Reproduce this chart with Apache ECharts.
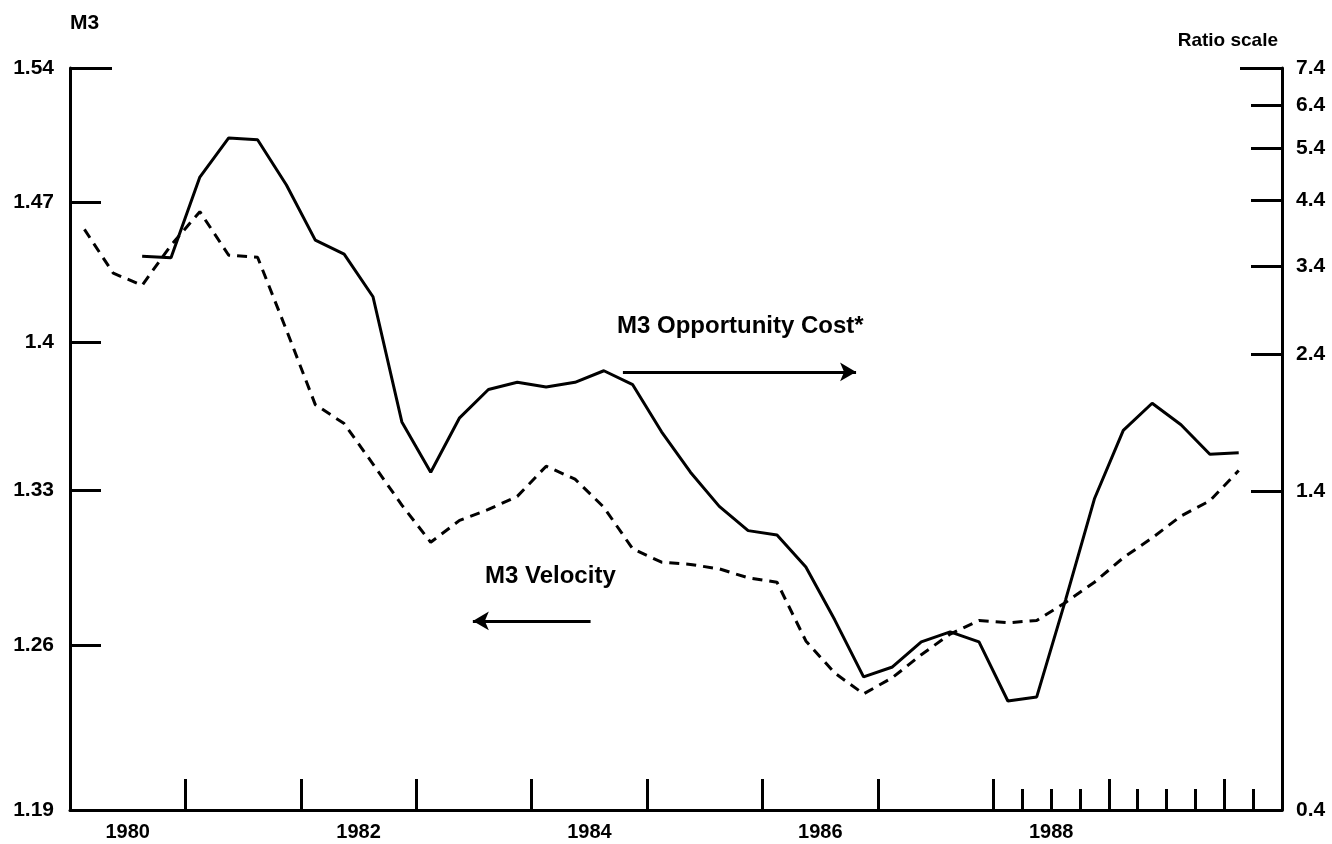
<!DOCTYPE html>
<html>
<head>
<meta charset="utf-8">
<script src="https://cdn.jsdelivr.net/npm/echarts@6/dist/echarts.min.js"></script>
<style>
html,body{margin:0;padding:0;background:#fff;}
#chart{width:1332px;height:844px;}
</style>
</head>
<body>
<div id="chart"></div>
<script>
// Quarterly observations (plotted at mid-quarter)
const quarters = [
  "1980Q1","1980Q2","1980Q3","1980Q4",
  "1981Q1","1981Q2","1981Q3","1981Q4",
  "1982Q1","1982Q2","1982Q3","1982Q4",
  "1983Q1","1983Q2","1983Q3","1983Q4",
  "1984Q1","1984Q2","1984Q3","1984Q4",
  "1985Q1","1985Q2","1985Q3","1985Q4",
  "1986Q1","1986Q2","1986Q3","1986Q4",
  "1987Q1","1987Q2","1987Q3","1987Q4",
  "1988Q1","1988Q2","1988Q3","1988Q4",
  "1989Q1","1989Q2","1989Q3","1989Q4",
  "1990Q1"
];
// M3 velocity (left scale, dashed)
const velocity = [
  1.456,1.434,1.428,1.448,
  1.465,1.443,1.442,1.406,
  1.370,1.361,1.342,1.323,
  1.306,1.316,1.321,1.327,
  1.341,1.335,1.322,1.303,
  1.297,1.296,1.294,1.290,
  1.288,1.262,1.248,1.239,
  1.246,1.256,1.265,1.271,
  1.270,1.271,1.279,1.288,
  1.299,1.308,1.318,1.325,
  1.339
];
// M3 opportunity cost (right ratio scale, solid)
const oppCost = [
  null,null,3.53,3.51,
  4.82,5.62,5.58,4.67,
  3.76,3.56,3.01,1.84,
  1.51,1.87,2.09,2.15,
  2.11,2.15,2.25,2.13,
  1.77,1.51,1.32,1.20,
  1.18,1.04,0.845,0.675,
  0.702,0.775,0.806,0.775,
  0.614,0.624,0.914,1.36,
  1.78,1.98,1.82,1.62,
  1.63
];
// Axis ticks and labels
const leftTicks = [1.19,1.26,1.33,1.40,1.47,1.54];
const rightTicks = [0.4,1.4,2.4,3.4,4.4,5.4,6.4,7.4];
const yearTicks = [1981,1982,1983,1984,1985,1986,1987,1988,1989,1990];
const quarterTicks = [1988.25,1988.5,1988.75,1989.25,1989.5,1989.75,1990.25];
const yearLabels = [1980,1982,1984,1986,1988];

function qToX(q){
  const y = parseInt(q.slice(0,4),10);
  const n = parseInt(q.slice(5),10);
  return y + (n - 0.5)/4;
}
const velData = quarters.map((q,i)=>[qToX(q), velocity[i]]);
const oppData = quarters.map((q,i)=>[qToX(q), oppCost[i]]).filter(d=>d[1]!==null);

const FONT = '"Liberation Sans", Arial, Helvetica, sans-serif';
const black = '#000';
const chart = echarts.init(document.getElementById('chart'), null, {renderer:'canvas'});

const fmt = v => String(parseFloat(Number(v).toFixed(2)));

const option = {
  backgroundColor:'#fff',
  animation:false,
  grid:{left:70,right:50,top:68,bottom:34,containLabel:false},
  xAxis:[
    {
      type:'value', min:1980, max:1990.5, position:'bottom',
      axisLine:{show:true,onZero:false,lineStyle:{color:black,width:3}},
      axisTick:{show:true,inside:true,length:31,customValues:yearTicks,lineStyle:{color:black,width:3}},
      axisLabel:{show:true,customValues:yearLabels.map(y=>y+0.5),formatter:v=>String(Math.floor(v)),
        color:black,fontSize:20,fontWeight:'bold',fontFamily:FONT,margin:12},
      splitLine:{show:false}
    },
    {
      type:'value', min:1980, max:1990.5, position:'bottom',
      axisLine:{show:false,onZero:false},
      axisTick:{show:true,inside:true,length:21,customValues:quarterTicks,lineStyle:{color:black,width:3}},
      axisLabel:{show:false},
      splitLine:{show:false}
    }
  ],
  yAxis:[
    {
      type:'log', logBase:10, min:1.19, max:1.54, position:'left',
      axisLine:{show:true,onZero:false,lineStyle:{color:black,width:3}},
      axisTick:{show:true,inside:true,length:31,customValues:leftTicks,lineStyle:{color:black,width:3}},
      axisLabel:{show:true,customValues:leftTicks,formatter:fmt,color:black,fontSize:21,fontWeight:'bold',fontFamily:FONT,margin:16},
      splitLine:{show:false}
    },
    {
      type:'log', logBase:10, min:0.4, max:7.4, position:'right',
      axisLine:{show:true,onZero:false,lineStyle:{color:black,width:3}},
      axisTick:{show:true,inside:true,length:31,customValues:rightTicks,lineStyle:{color:black,width:3}},
      axisLabel:{show:true,customValues:rightTicks,formatter:fmt,color:black,fontSize:21,fontWeight:'bold',fontFamily:FONT,margin:14},
      splitLine:{show:false}
    },
    {
      type:'log', logBase:10, min:1.19, max:1.54, position:'left',
      axisLine:{show:false},
      axisTick:{show:true,inside:true,length:42,customValues:[1.54],lineStyle:{color:black,width:3}},
      axisLabel:{show:false}, splitLine:{show:false}
    },
    {
      type:'log', logBase:10, min:0.4, max:7.4, position:'right',
      axisLine:{show:false},
      axisTick:{show:true,inside:true,length:42,customValues:[7.4],lineStyle:{color:black,width:3}},
      axisLabel:{show:false}, splitLine:{show:false}
    }
  ],
  series:[
    {
      name:'M3 Velocity', type:'line', xAxisIndex:0, yAxisIndex:0,
      data:velData, showSymbol:false, symbol:'none',
      lineStyle:{color:black,width:3,type:[10,7]},
      markLine:{
        silent:true, symbol:['arrow','none'], symbolSize:[14,16],
        label:{show:false},
        lineStyle:{color:black,width:3,type:'solid'},
        data:[[{coord:[1983.49,1.2708]},{coord:[1984.51,1.2708]}]]
      }
    },
    {
      name:'M3 Opportunity Cost*', type:'line', xAxisIndex:0, yAxisIndex:1,
      data:oppData, showSymbol:false, symbol:'none',
      lineStyle:{color:black,width:3,type:'solid'},
      markLine:{
        silent:true, symbol:['none','arrow'], symbolSize:[14,16],
        label:{show:false},
        lineStyle:{color:black,width:3,type:'solid'},
        data:[[{coord:[1984.79,2.24]},{coord:[1986.81,2.24]}]]
      }
    }
  ],
  graphic:[
    {type:'text',left:70,top:13,style:{text:'M3',fontSize:21,fontWeight:'bold',fontFamily:FONT,fill:black}},
    {type:'text',right:54,top:31,style:{text:'Ratio scale',fontSize:19,fontWeight:'bold',fontFamily:FONT,fill:black}},
    {type:'text',left:617,top:314,style:{text:'M3 Opportunity Cost*',fontSize:24,fontWeight:'bold',fontFamily:FONT,fill:black}},
    {type:'text',left:485,top:564,style:{text:'M3 Velocity',fontSize:24,fontWeight:'bold',fontFamily:FONT,fill:black}}
  ]
};
chart.setOption(option);
</script>
</body>
</html>
